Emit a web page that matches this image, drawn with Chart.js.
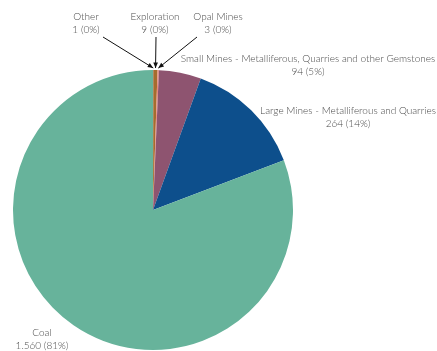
<!DOCTYPE html>
<html>
<head>
<meta charset="utf-8">
<script src="https://cdn.jsdelivr.net/npm/chart.js@4/dist/chart.umd.min.js"></script>
<style>
  html, body { margin: 0; padding: 0; background: #fff; }
  #wrap { width: 437px; height: 351px; position: relative; }
</style>
</head>
<body>
<div id="wrap"><canvas id="pieChart" width="437" height="351"></canvas></div>
<script>
const categories = [
  'Other',
  'Exploration',
  'Opal Mines',
  'Small Mines - Metalliferous, Quarries and other Gemstones',
  'Large Mines - Metalliferous and Quarries',
  'Coal'
];
const counts = [1, 9, 3, 94, 264, 1560];
const countLabels = ['1', '9', '3', '94', '264', '1.560'];
const percentLabels = ['0%', '0%', '0%', '5%', '14%', '81%'];
const sliceColors = ['#7a4a2a', '#a56c2e', '#e8897c', '#8e5470', '#0d4f8c', '#67b39b'];

// where each label sits, and whether it gets an arrow down to its slice
const labelSpots = [
  { x: 86, y: 17, arrowFrom: [103, 37] },
  { x: 155, y: 17, arrowFrom: [156, 37] },
  { x: 218, y: 17, arrowFrom: [197, 37] },
  { x: 308, y: 59 },
  { x: 348, y: 111 },
  { x: 42, y: 333 }
];

const calloutPlugin = {
  id: 'callouts',
  afterDraw(chart) {
    const ctx = chart.ctx;
    const arcs = chart.getDatasetMeta(0).data;
    ctx.save();
    ctx.font = '300 10px Lato, "Open Sans", sans-serif';
    ctx.fillStyle = '#4a4a4a';
    ctx.textAlign = 'center';
    ctx.textBaseline = 'middle';
    labelSpots.forEach((spot, i) => {
      ctx.fillText(categories[i], spot.x, spot.y);
      ctx.fillText(countLabels[i] + ' (' + percentLabels[i] + ')', spot.x, spot.y + 13);
      if (!spot.arrowFrom) return;
      const arc = arcs[i];
      const mid = (arc.startAngle + arc.endAngle) / 2;
      const r = arc.outerRadius + 2;
      const tx = arc.x + Math.cos(mid) * r;
      const ty = arc.y + Math.sin(mid) * r;
      const [fx, fy] = spot.arrowFrom;
      ctx.strokeStyle = '#111';
      ctx.lineWidth = 1;
      ctx.beginPath();
      ctx.moveTo(fx, fy);
      ctx.lineTo(tx, ty);
      ctx.stroke();
      const ang = Math.atan2(ty - fy, tx - fx);
      const head = 6;
      ctx.fillStyle = '#111';
      ctx.beginPath();
      ctx.moveTo(tx, ty);
      ctx.lineTo(tx - head * Math.cos(ang - 0.4), ty - head * Math.sin(ang - 0.4));
      ctx.lineTo(tx - head * Math.cos(ang + 0.4), ty - head * Math.sin(ang + 0.4));
      ctx.closePath();
      ctx.fill();
      ctx.fillStyle = '#4a4a4a';
    });
    ctx.restore();
  }
};

new Chart(document.getElementById('pieChart'), {
  type: 'pie',
  data: {
    labels: categories,
    datasets: [{
      data: counts,
      backgroundColor: sliceColors,
      borderWidth: 0
    }]
  },
  options: {
    responsive: false,
    animation: false,
    layout: { padding: { left: 13, right: 144, top: 70, bottom: 1 } },
    plugins: {
      legend: { display: false },
      tooltip: { enabled: false }
    }
  },
  plugins: [calloutPlugin]
});
</script>
</body>
</html>
